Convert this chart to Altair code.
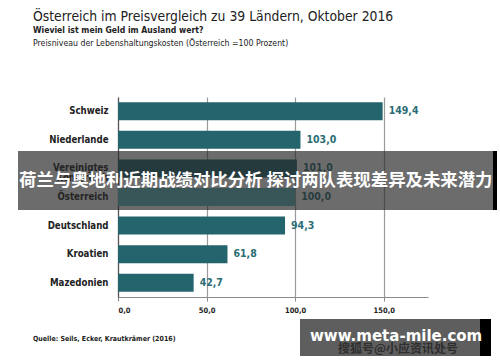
import altair as alt
import pandas as pd

# ---- data ----
laender = ["Schweiz", "Niederlande", "Vereinigtes Königreich", "Österreich",
           "Deutschland", "Kroatien", "Mazedonien"]
preisniveau = [149.4, 103.0, 101.0, 100.0, 94.3, 61.8, 42.7]
x_ticks = [0, 50, 100, 150]

title_text = "Österreich im Preisvergleich zu 39 Ländern, Oktober 2016"
subtitle_text = "Wieviel ist mein Geld im Ausland wert?"
subtitle2_text = "Preisniveau der Lebenshaltungskosten (Österreich =100 Prozent)"
source_text = "Quelle: Seils, Ecker, Krautkrämer (2016)"
banner_text = "荷兰与奥地利近期战绩对比分析 探讨两队表现差异及未来潜力"
wm_text = "www.meta-mile.com"
wm_sub_text = "搜狐号@小应资讯处号"

df = pd.DataFrame({"land": laender, "wert": preisniveau})
df["label"] = [f"{v:.1f}".replace(".", ",") for v in preisniveau]

NARROW = "'Liberation Sans Narrow', 'DejaVu Sans Condensed', 'Roboto Condensed', 'Arial Narrow', sans-serif"
TEAL = "#24656d"
LIGHT = "#5fb6bf"

x_enc = alt.X("wert:Q", scale=alt.Scale(domain=[0, 175], nice=False),
              axis=alt.Axis(values=x_ticks,
                            labelExpr="replace(format(datum.value, '.1f'), '.', ',')",
                            grid=True, gridColor="#9a9a9a", gridWidth=1.2,
                            domainColor="#8a8a8a", domainWidth=1.2,
                            tickColor="#8a8a8a", tickSize=4,
                            labelFont=NARROW, labelFontSize=7.5, labelFontWeight="bold",
                            labelColor="#222222", labelPadding=5, title=None))
y_enc = alt.Y("land:N", sort=laender,
              scale=alt.Scale(paddingInner=0.37, paddingOuter=0.185),
              axis=alt.Axis(title=None, ticks=False, domainColor="#555555", domainWidth=1.2,
                            labelFont=NARROW, labelFontSize=9.6, labelFontWeight="bold",
                            labelColor="#222222", labelPadding=10, labelLineHeight=10,
                            labelExpr="datum.label == 'Vereinigtes Königreich' ? ['Vereinigtes', 'Königreich'] : datum.label"))

bars = alt.Chart(df).mark_bar(size=18).encode(
    x=x_enc, y=y_enc,
    color=alt.condition(alt.datum.land == "Österreich", alt.value(LIGHT), alt.value(TEAL)),
)
labels = alt.Chart(df).mark_text(align="left", baseline="middle", dx=6,
                                 font=NARROW, fontSize=10.5, fontWeight="bold",
                                 color="#2b6d75").encode(
    x="wert:Q", y=alt.Y("land:N", sort=laender), text="label:N")

one = pd.DataFrame({"k": [0]})


def txt(text, x, y, size, weight="normal", color="#222222", font=NARROW, align="left", opacity=1):
    return alt.Chart(one).mark_text(align=align, baseline="middle", font=font, fontSize=size,
                                    fontWeight=weight, color=color, opacity=opacity).encode(
        x=alt.value(x), y=alt.value(y), text=alt.value(text))


def rect(x, x2, y, y2, color, opacity=1.0):
    return alt.Chart(one).mark_rect(color=color, opacity=opacity).encode(
        x=alt.value(x), x2=alt.value(x2), y=alt.value(y), y2=alt.value(y2))


title = txt(title_text, -85, -80, 13.8)
sub1 = txt(subtitle_text, -85, -67, 8.6, "bold")
sub2 = txt(subtitle2_text, -85, -54, 8.7)
source = txt(source_text, -85, 242, 7, "bold")

banner_bg = rect(-100, 375, 54, 113, "#262626", 0.68)
banner_edge = rect(375, 379, 54, 113, "#000000")
banner = txt(banner_text, -99, 84, 17.4, "bold", "#ffffff", "'Noto Sans CJK SC', sans-serif")

wm_bg = rect(182, 362, 222, 259, "#5e5e5e")
wm_edge = rect(362, 373, 222, 259, "#000000")
wm_sub = txt(wm_sub_text, 220, 252, 12, "bold", "#2e2e2e", "'Noto Sans CJK SC', sans-serif")
wm = txt(wm_text, 192, 239, 15, "bold", "#ffffff", "'DejaVu Sans', sans-serif")

chart = alt.layer(
    bars, labels, title, sub1, sub2, source,
    banner_bg, banner_edge, banner, wm_bg, wm_edge, wm_sub, wm,
).properties(
    width=310, height=200,
    padding={"left": 118, "top": 97, "right": 72, "bottom": 65},
    autosize=alt.AutoSizeParams(type="none"),
    background="#ffffff",
).configure_view(stroke=None)

chart.save("out.html", embed_options={"renderer": "svg", "actions": False})
